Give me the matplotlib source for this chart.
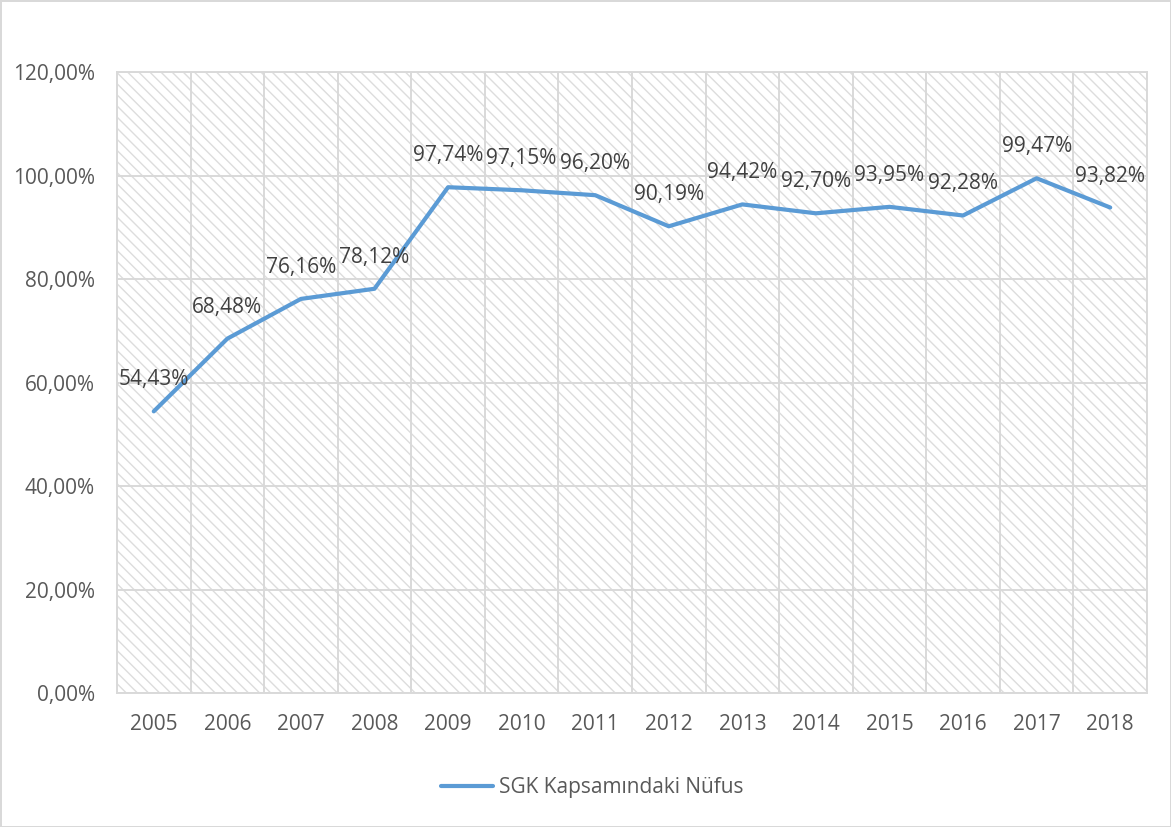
import matplotlib.pyplot as plt
from matplotlib.patches import Rectangle
from matplotlib.ticker import FixedLocator

plt.rcParams['font.family'] = ['Open Sans', 'DejaVu Sans']

years = ['2005', '2006', '2007', '2008', '2009', '2010', '2011',
         '2012', '2013', '2014', '2015', '2016', '2017', '2018']
coverage = [54.43, 68.48, 76.16, 78.12, 97.74, 97.15, 96.20,
            90.19, 94.42, 92.70, 93.95, 92.28, 99.47, 93.82]
y_ticks = [0, 20, 40, 60, 80, 100, 120]

grid_col = '#D9D9D9'
text_col = '#595959'
line_col = '#5B9BD5'

fig = plt.figure(figsize=(11.71, 8.27), dpi=100)
fig.patch.set_edgecolor(grid_col)
fig.patch.set_linewidth(2)
ax = fig.add_axes([0.0999, 0.162, 0.8796, 0.7509])

# hatched plot background
ax.add_patch(Rectangle((0, 0), 1, 1, transform=ax.transAxes, facecolor='white',
                       edgecolor='#DDDDDD', linewidth=0, hatch='\\\\\\', zorder=0))

x = list(range(len(years)))
ax.plot(x, coverage, color=line_col, linewidth=3, solid_capstyle='round',
        label='SGK Kapsamındaki Nüfus', zorder=3)

for xi, v in zip(x, coverage):
    ax.annotate(f'{v:.2f}%'.replace('.', ','), (xi, v), xytext=(0, 21),
                textcoords='offset pixels', ha='center', va='bottom',
                fontsize=15, color='#404040', zorder=4)

ax.set_xlim(-0.5, len(years) - 0.5)
ax.set_ylim(0, 120)
ax.set_xticks(x)
ax.set_xticklabels(years)
ax.xaxis.set_minor_locator(FixedLocator([i + 0.5 for i in range(-1, len(years))]))
ax.set_yticks(y_ticks)
ax.set_yticklabels([f'{t},00%' for t in y_ticks])

ax.grid(True, axis='y', which='major', color=grid_col, linewidth=1.4, zorder=1)
ax.grid(True, axis='x', which='minor', color=grid_col, linewidth=1.4, zorder=1)
ax.set_axisbelow(True)
ax.tick_params(axis='both', which='both', length=0, labelsize=15, labelcolor=text_col)
ax.tick_params(axis='y', pad=16)
ax.tick_params(axis='x', pad=15)
for s in ax.spines.values():
    s.set_color(grid_col)
    s.set_linewidth(1.4)

fig.legend(loc='center', bbox_to_anchor=(0.506, 0.048), frameon=False,
           fontsize=15, labelcolor=text_col, handlelength=2.5, handletextpad=0.3)

fig.savefig('out.png', dpi=100)
